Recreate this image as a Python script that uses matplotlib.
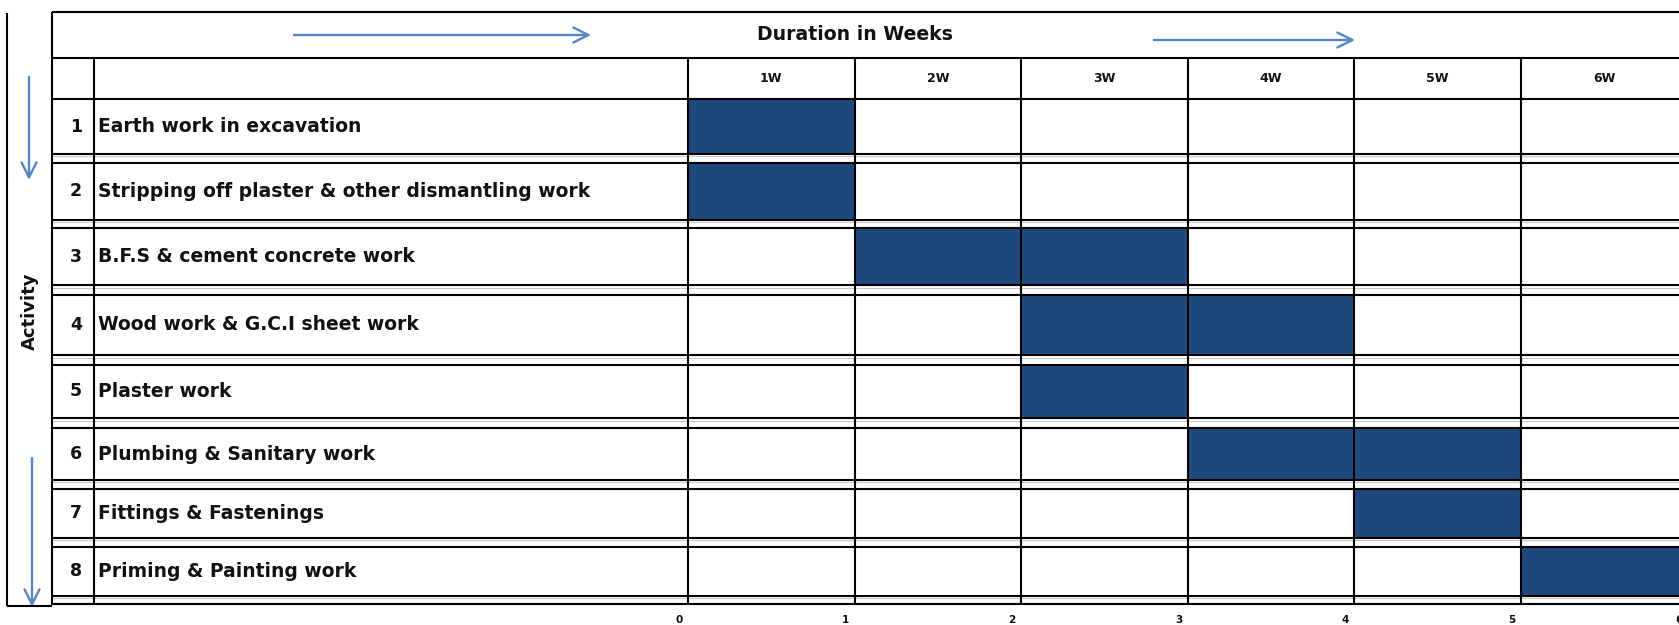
import numpy as np
import matplotlib
matplotlib.use("Agg")
import matplotlib.pyplot as plt
from matplotlib.lines import Line2D
from matplotlib.transforms import blended_transform_factory as blend, ScaledTranslation

# ---------------- data ----------------
activity_no = ["1", "2", "3", "4", "5", "6", "7", "8"]
activities = [
    "Earth work in excavation",
    "Stripping off plaster & other dismantling work",
    "B.F.S & cement concrete work",
    "Wood work & G.C.I sheet work",
    "Plaster work",
    "Plumbing & Sanitary work",
    "Fittings & Fastenings",
    "Priming & Painting work",
]
start_week = [0, 0, 1, 2, 2, 3, 4, 5]
duration_weeks = [1, 1, 2, 2, 1, 2, 1, 1]
week_labels = ["1W", "2W", "3W", "4W", "5W", "6W"]
axis_ticks = [0, 1, 2, 3, 4, 5, 6]
header_title = "Duration in Weeks"
side_title = "Activity"

# ---------------- layout ----------------
W, H = 1679, 625
BAR_COLOR = "#1F497D"
ARROW_COLOR = "#5585C2"
TXT = "#111111"
LW = 1.5
FILL = 0.86                      # part of a row used by the cell (rest = double rule gap)
ROW_PX = [(99, 154), (163, 220), (228, 285), (295, 355),
          (365, 418), (428, 480), (489, 538), (547, 596)]
TABLE_BOTTOM = 604
X0_PX, X6_PX = 688, 1687.5
TABLE_LEFT, NUM_RIGHT = 52, 94

fig = plt.figure(figsize=(W / 100, H / 100), dpi=100)
fig.patch.set_facecolor("white")

bg = fig.add_axes([0, 0, 1, 1])
bg.set_xlim(0, W)
bg.set_ylim(H, 0)
bg.set_autoscale_on(False)
bg.axis("off")

ax = fig.add_axes([X0_PX / W, (H - TABLE_BOTTOM) / H,
                   (X6_PX - X0_PX) / W, (TABLE_BOTTOM - ROW_PX[0][0]) / H])

# row scale: row index -> vertical pixel position of the table rows
KI, KP = [], []
for i, (t, b) in enumerate(ROW_PX):
    KI += [i, i + FILL]
    KP += [t, b]
KI.append(len(ROW_PX))
KP.append(TABLE_BOTTOM)
KI = np.array(KI, float)
KP = np.array(KP, float)


def fwd(y):
    y = np.asarray(y, float)
    out = np.interp(y, KI, KP)
    out = np.where(y < KI[0], KP[0] + (y - KI[0]) * 63.0, out)
    out = np.where(y > KI[-1], KP[-1] + (y - KI[-1]) * 63.0, out)
    return out


def inv(p):
    p = np.asarray(p, float)
    out = np.interp(p, KP, KI)
    out = np.where(p < KP[0], KI[0] + (p - KP[0]) / 63.0, out)
    out = np.where(p > KP[-1], KI[-1] + (p - KP[-1]) / 63.0, out)
    return out


ax.set_yscale("function", functions=(fwd, inv))
n = len(activities)
ax.set_xlim(0, len(week_labels))
ax.set_ylim(n, 0)
ax.set_facecolor("none")
for s in ax.spines.values():
    s.set_visible(False)
ax.set_yticks([])
ax.yaxis.set_minor_locator(matplotlib.ticker.NullLocator())

# bars
rows = np.arange(n)
ax.barh(rows, duration_weeks, left=start_week, height=FILL, align="edge",
        color=BAR_COLOR, edgecolor="#0d1e36", linewidth=1.2, zorder=2)

# bottom axis tick labels
ax.set_xticks(axis_ticks)
ax.set_xticklabels([str(t) for t in axis_ticks], fontsize=7.5,
                   fontweight="bold", color=TXT)
ax.tick_params(axis="x", length=0, pad=8)
shift = ScaledTranslation(-9 / 100, 0, fig.dpi_scale_trans)
for lab in ax.get_xticklabels():
    lab.set_transform(lab.get_transform() + shift)

t_rows = blend(bg.transData, ax.transData)   # x pixels, y rows
t_cols = blend(ax.transData, bg.transData)   # x weeks, y pixels


def line(xs, ys, trans, color="black", lw=LW):
    fig.add_artist(Line2D(xs, ys, transform=trans, color=color, lw=lw,
                          solid_capstyle="butt", zorder=5))


RIGHT = W + 10
# header rules
line([TABLE_LEFT, RIGHT], [12, 12], bg.transData)
line([TABLE_LEFT, RIGHT], [58, 58], bg.transData)
line([TABLE_LEFT, RIGHT], [0, 0], t_rows)
# row double rules
for i in range(n):
    line([TABLE_LEFT, RIGHT], [i + FILL, i + FILL], t_rows)
    line([TABLE_LEFT, RIGHT], [i + FILL + 0.035, i + FILL + 0.035], t_rows,
         color="#c9c9c9", lw=0.8)
    line([TABLE_LEFT, RIGHT], [i + 1, i + 1], t_rows)
# vertical rules
line([TABLE_LEFT, TABLE_LEFT], [12, 605], bg.transData)
line([NUM_RIGHT, NUM_RIGHT], [58, 605], bg.transData)
for k in range(len(week_labels) + 1):
    line([k, k], [58, 605], t_cols)
# outer frame of the side title
line([7, 7], [13, 606], bg.transData)
line([7, TABLE_LEFT], [606, 606], bg.transData)

# texts
for i in range(n):
    bg.text(76, i + FILL / 2, activity_no[i], transform=t_rows, ha="center",
            va="center", fontsize=12.5, fontweight="bold", color=TXT)
    bg.text(98, i + FILL / 2, activities[i], transform=t_rows, ha="left",
            va="center", fontsize=13.5, fontweight="bold", color=TXT)
for k, wl in enumerate(week_labels):
    bg.text(k + 0.5, 79, wl, transform=t_cols, ha="center", va="center",
            fontsize=9, fontweight="bold", color=TXT)
bg.text(757, 35, header_title, ha="left", va="center", fontsize=13.6,
        fontweight="bold", color=TXT)
bg.text(30, 311, side_title, rotation=90, ha="center", va="center",
        fontsize=13, fontweight="bold", color=TXT)

# arrows
aprops = dict(arrowstyle="->,head_length=0.9,head_width=0.45",
              color=ARROW_COLOR, lw=1.7, shrinkA=0, shrinkB=0,
              mutation_scale=12)
bg.annotate("", xy=(591, 35), xytext=(294, 35), arrowprops=aprops)
bg.annotate("", xy=(1355, 40), xytext=(1154, 40), arrowprops=aprops)
bg.annotate("", xy=(29, 180), xytext=(29, 77), arrowprops=aprops)
bg.annotate("", xy=(32, 607), xytext=(32, 458), arrowprops=aprops)

fig.savefig("out.png", dpi=100, facecolor="white")
